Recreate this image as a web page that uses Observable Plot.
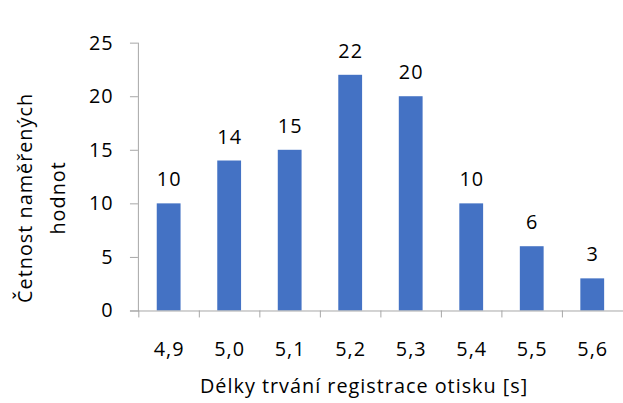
<!DOCTYPE html>
<html>
<head>
<meta charset="utf-8">
<script src="https://cdn.jsdelivr.net/npm/d3@7"></script>
<script src="https://cdn.jsdelivr.net/npm/@observablehq/plot@0.6"></script>
<style>
  html, body { margin: 0; padding: 0; background: #fff; overflow: hidden; }
  #chart svg { display: block; }
  #chart svg text { letter-spacing: 1px; }
  #chart svg g[aria-label="x-title"] text { letter-spacing: 2px; }
  #chart svg g[aria-label="y-title"] text { letter-spacing: 1.6px; }
</style>
</head>
<body>
<div id="chart"></div>
<script>
// Duration of fingerprint registration (s) and how often each value was measured
const durations = ["4,9", "5,0", "5,1", "5,2", "5,3", "5,4", "5,5", "5,6"];
const counts = [10, 14, 15, 22, 20, 10, 6, 3];
const yTicks = [0, 5, 10, 15, 20, 25];
const xTitle = "Délky trvání registrace otisku [s]";
const yTitle = "Četnost naměřených\nhodnot";

const data = durations.map((d, i) => ({duration: d, count: counts[i]}));

const width = 628, height = 403;
const marginLeft = 139, marginRight = 0, marginTop = 43, marginBottom = 90;
const padInner = 0.6, padOuter = 0.3;
// band step, used to move the category ticks onto the band boundaries
const step = (width - marginLeft - marginRight) / (durations.length - padInner + 2 * padOuter);

const axisColor = "#a6a6a6";
const textColor = "#000";
const font = "'Open Sans', sans-serif";

const chart = Plot.plot({
  width, height, marginLeft, marginRight, marginTop, marginBottom,
  style: {fontFamily: font, fontSize: "20px", color: textColor, background: "#fff"},
  x: {domain: durations, paddingInner: padInner, paddingOuter: padOuter, align: 0.5, axis: null},
  y: {domain: [0, 25], ticks: yTicks, axis: null},
  marks: [
    Plot.barY(data, {x: "duration", y: "count", fill: "#4472C4"}),
    Plot.text(data, {x: "duration", y: "count", text: d => String(d.count), dy: -24, fill: textColor, fontSize: 20}),
    // y axis: line, ticks and labels
    Plot.axisY({ticks: yTicks, tickSize: 8, tickPadding: 17, stroke: axisColor, fill: textColor, fontSize: 20, label: null}),
    Plot.frame({anchor: "left", stroke: axisColor}),
    // x axis baseline, extended to meet the y tick at zero
    Plot.ruleY([0], {stroke: axisColor, insetLeft: -8}),
    // category separators below the baseline
    Plot.axisX({tickSize: 7, text: null, dx: -step / 2, stroke: axisColor, label: null}),
    Plot.axisX({tickSize: 0, tickPadding: 31, fill: textColor, fontSize: 20, label: null}),
    // axis titles
    Plot.text([xTitle], {ariaLabel: "x-title", frameAnchor: "bottom", dx: -17, dy: 83, fill: textColor, fontSize: 20}),
    Plot.text([yTitle], {ariaLabel: "y-title", frameAnchor: "left", textAnchor: "middle", rotate: -90, dx: -101, dy: 21, lineHeight: 1.65, fill: textColor, fontSize: 20})
  ]
});

document.getElementById("chart").appendChild(chart);
</script>
</body>
</html>
